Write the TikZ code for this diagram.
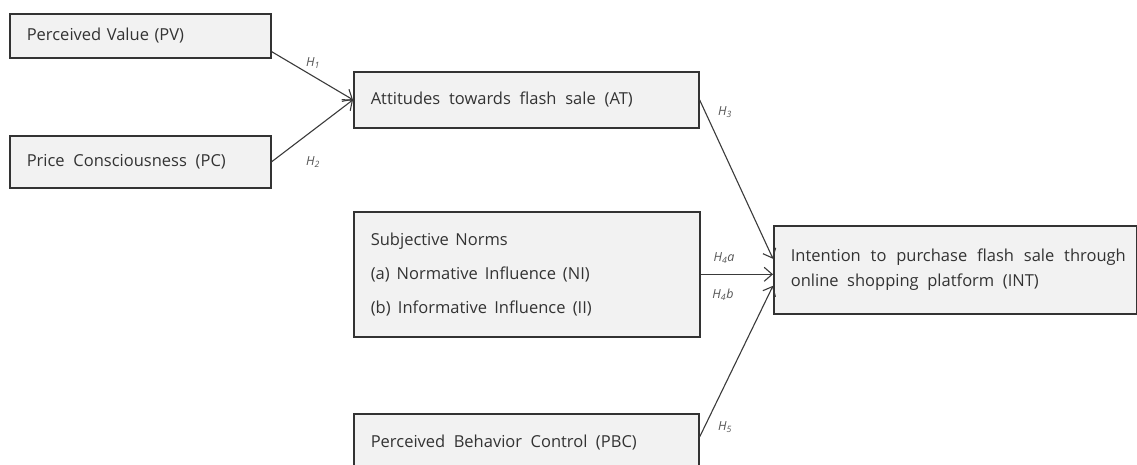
\documentclass[tikz,border=0pt]{standalone}
\usepackage{fontspec}
\setmainfont{Open Sans}
\usetikzlibrary{arrows.meta}
\definecolor{boxline}{HTML}{333333}
\definecolor{boxfill}{HTML}{F2F2F2}
\definecolor{linecol}{HTML}{3A3A3A}
\definecolor{labcol}{HTML}{555555}
\definecolor{textcol}{HTML}{333333}
\newcommand{\spreadto}[2]{\makebox[#1][s]{\spaceskip=.26em plus 3em minus .08em\relax #2}}
\begin{document}
\begin{tikzpicture}[x=1pt,y=-1pt,
  box/.style={draw=boxline, fill=boxfill, line width=1.6pt, anchor=north west,
    inner xsep=17pt, inner ysep=0pt, align=left, text=textcol,
    font=\fontsize{16.5}{18}\selectfont},
  link/.style={draw=linecol, line width=1.1pt, -{Straight Barb[length=8pt,width=14pt]}},
  hyp/.style={font=\fontsize{12.5}{14}\selectfont\itshape, text=labcol, inner sep=0pt}]
\useasboundingbox (0,0) rectangle (1137,464);
\clip (0,0) rectangle (1137,464);

\node[box, text width=227pt, minimum height=44pt] (PV) at (9,13)
  {Perceived Value (PV)};
\node[box, text width=227pt, minimum height=52pt] (PC) at (9,135)
  {\spreadto{199pt}{Price Consciousness (PC)}};
\node[box, text width=311pt, minimum height=56pt] (AT) at (353,71)
  {\spreadto{262pt}{Attitudes towards flash sale (AT)}};
\node[box, text width=312pt, minimum height=125pt, font=\fontsize{16.5}{34}\selectfont] (SN) at (353,211)
  {\spreadto{137pt}{Subjective Norms}\\\spreadto{219pt}{(a) Normative Influence (NI)}\\\spreadto{221pt}{(b) Informative Influence (II)}};
\node[box, text width=329pt, minimum height=88pt, font=\fontsize{16.5}{25}\selectfont] (INT) at (773,225)
  {\spreadto{335pt}{Intention to purchase flash sale through}\\\spreadto{248pt}{online shopping platform (INT)}};
\node[box, text width=311pt, minimum height=58pt] (PBC) at (353,413)
  {\spreadto{266pt}{Perceived Behavior Control (PBC)}};

\draw[link] ([yshift=7pt]PV.south east) -- (AT.west);
\draw[link] (PC.east) -- (AT.west);
\draw[link] (AT.east) -- ([yshift=11pt]INT.west);
\draw[link] (SN.east) -- (SN.east -| INT.west);
\draw[link] ([yshift=-24pt]PBC.north east) -- ([yshift=-16pt]INT.west);

\node[hyp] (h1) at (313,63) {H\textsubscript{1}};
\node[hyp] (h2) at (313,162) {H\textsubscript{2}};
\node[hyp] (h3) at (725,112) {H\textsubscript{3}};
\node[hyp] (h4a) at (724,258) {H\textsubscript{4}a};
\node[hyp] (h4b) at (723,295) {H\textsubscript{4}b};
\node[hyp] (h5) at (725,427) {H\textsubscript{5}};
\end{tikzpicture}
\end{document}
